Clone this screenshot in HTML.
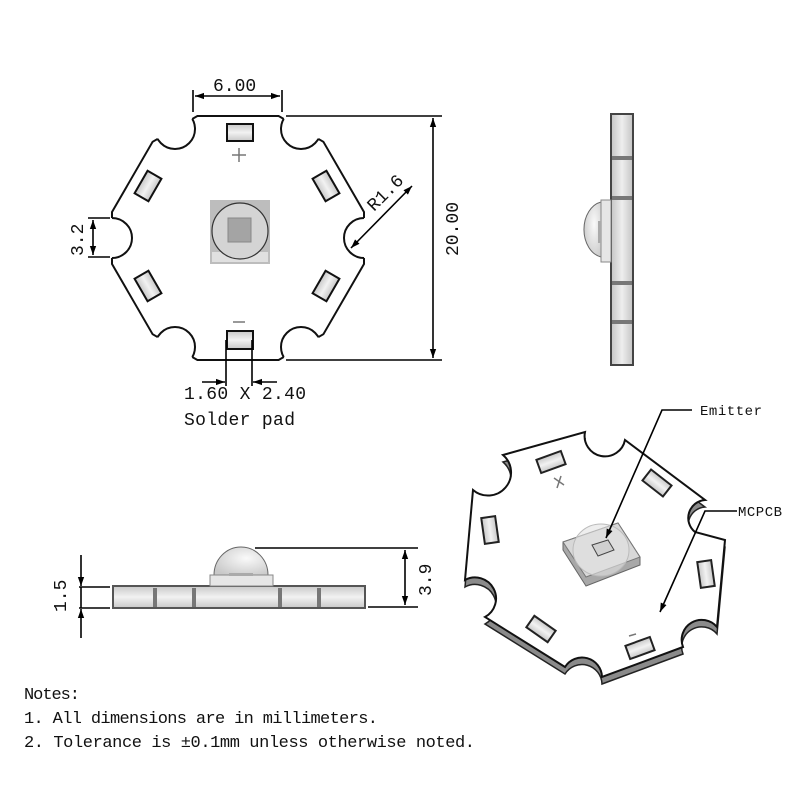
<!DOCTYPE html>
<html><head><meta charset="utf-8"><style>
html,body{margin:0;padding:0;background:#fff;width:800px;height:800px;overflow:hidden}
svg{display:block}
text{font-family:"Liberation Mono","DejaVu Sans Mono",monospace;fill:#111}
</style></head><body>
<svg width="800" height="800" viewBox="0 0 800 800" xmlns="http://www.w3.org/2000/svg">
<defs>
<linearGradient id="pad" x1="0" y1="0" x2="0" y2="1"><stop offset="0" stop-color="#c8c8c8"/><stop offset="0.5" stop-color="#f2f2f2"/><stop offset="1" stop-color="#c8c8c8"/></linearGradient>
<linearGradient id="padh" x1="0" y1="0" x2="1" y2="0"><stop offset="0" stop-color="#c4c4c4"/><stop offset="0.5" stop-color="#eee"/><stop offset="1" stop-color="#c4c4c4"/></linearGradient>
<radialGradient id="dome" cx="0.6" cy="0.4" r="0.7"><stop offset="0" stop-color="#fafafa"/><stop offset="1" stop-color="#c8c8c8"/></radialGradient>
<marker id="ah" viewBox="0 0 10 10" refX="10" refY="5" markerWidth="9" markerHeight="9" orient="auto-start-reverse" markerUnits="userSpaceOnUse"><path d="M0,1.5 L10,5 L0,8.5 z" fill="#000"/></marker>
<mask id="hexm"><rect width="800" height="800" fill="#fff"/>
<g fill="#000"><circle cx="112" cy="238" r="20"/><circle cx="364" cy="238" r="20"/><circle cx="175" cy="129" r="20"/><circle cx="301" cy="129" r="20"/><circle cx="175" cy="347" r="20"/><circle cx="301" cy="347" r="20"/></g></mask>
<clipPath id="hexc"><polygon points="197.4,116 278.6,116 323.4,141.8 364,212 364,264 323.4,334.2 278.6,360 197.4,360 152.6,334.2 112,264 112,212 152.6,141.8"/></clipPath>
</defs>

<!-- top view board -->
<polygon points="197.4,116 278.6,116 323.4,141.8 364,212 364,264 323.4,334.2 278.6,360 197.4,360 152.6,334.2 112,264 112,212 152.6,141.8" fill="#fff" stroke="#111" stroke-width="2" mask="url(#hexm)"/>
<g clip-path="url(#hexc)" fill="none" stroke="#111" stroke-width="2"><circle cx="112" cy="238" r="20"/><circle cx="364" cy="238" r="20"/><circle cx="175" cy="129" r="20"/><circle cx="301" cy="129" r="20"/><circle cx="175" cy="347" r="20"/><circle cx="301" cy="347" r="20"/></g>
<g stroke="#111" stroke-width="2" fill="url(#pad)">
<rect x="227" y="124" width="26" height="17"/>
<rect x="227" y="331" width="26" height="18"/>
<rect x="-13" y="-8" width="26" height="16" transform="translate(148,186) rotate(-60)"/>
<rect x="-13" y="-8" width="26" height="16" transform="translate(326,186) rotate(60)"/>
<rect x="-13" y="-8" width="26" height="16" transform="translate(148,286) rotate(60)"/>
<rect x="-13" y="-8" width="26" height="16" transform="translate(326,286) rotate(-60)"/>
</g>
<g stroke="#777" stroke-width="1.5"><line x1="232" y1="155" x2="246" y2="155"/><line x1="239" y1="148" x2="239" y2="162"/><line x1="233" y1="322" x2="245" y2="322"/></g>
<rect x="210" y="200" width="60" height="64" fill="#bdbdbd"/>
<rect x="212" y="252" width="56" height="10" fill="#e0e0e0"/>
<circle cx="240" cy="231" r="28" fill="#d4d4d4" stroke="#333" stroke-width="1.2"/>
<rect x="228" y="218" width="23" height="24" fill="#a4a4a4" stroke="#888"/>

<!-- top view dims -->
<g stroke="#000" stroke-width="1.6" fill="none">
<line x1="193" y1="90" x2="193" y2="112"/><line x1="282" y1="90" x2="282" y2="112"/>
<line x1="195" y1="96" x2="280" y2="96" marker-start="url(#ah)" marker-end="url(#ah)"/>
<line x1="286" y1="116" x2="442" y2="116"/><line x1="286" y1="360" x2="442" y2="360"/>
<line x1="433" y1="118" x2="433" y2="358" marker-start="url(#ah)" marker-end="url(#ah)"/>
<line x1="88" y1="218" x2="110" y2="218"/><line x1="88" y1="257" x2="110" y2="257"/>
<line x1="93" y1="220" x2="93" y2="255" marker-start="url(#ah)" marker-end="url(#ah)"/>
<line x1="412" y1="186" x2="351" y2="248" marker-start="url(#ah)" marker-end="url(#ah)"/>
<line x1="226" y1="340" x2="226" y2="386"/><line x1="252" y1="340" x2="252" y2="386"/>
<line x1="202" y1="382" x2="225" y2="382" marker-end="url(#ah)"/>
<line x1="277" y1="382" x2="253" y2="382" marker-end="url(#ah)"/>
</g>
<text x="213" y="91" font-size="18">6.00</text>
<text font-size="18" transform="translate(83,256) rotate(-90)">3.2</text>
<text font-size="18" transform="translate(458,256) rotate(-90)">20.00</text>
<text font-size="18" transform="translate(374,212) rotate(-45)">R1.6</text>
<text x="184" y="399" font-size="18" textLength="122">1.60 X 2.40</text>
<text x="184" y="425" font-size="18" textLength="111">Solder pad</text>

<!-- side view -->
<rect x="611" y="114" width="22" height="251" fill="url(#padh)" stroke="#444" stroke-width="2"/>
<g fill="#777"><rect x="612" y="156" width="20" height="4"/><rect x="612" y="196" width="20" height="4"/><rect x="612" y="281" width="20" height="4"/><rect x="612" y="320" width="20" height="4"/></g>
<path d="M601,202 A21,28 0 0 0 601,257 Z" fill="url(#dome)" stroke="#666"/>
<rect x="601" y="200" width="10" height="62" fill="#e6e6e6" stroke="#888"/>
<rect x="598" y="221" width="3" height="22" fill="#aaa"/>

<!-- bottom profile -->
<rect x="113" y="586" width="252" height="22" fill="url(#pad)" stroke="#555" stroke-width="2"/>
<g fill="#777"><rect x="153" y="588" width="4" height="19"/><rect x="192" y="588" width="4" height="19"/><rect x="278" y="588" width="4" height="19"/><rect x="317" y="588" width="4" height="19"/></g>
<path d="M214,575 A27,28 0 0 1 268,575 Z" fill="url(#dome)" stroke="#666"/>
<rect x="210" y="575" width="63" height="11" fill="#e6e6e6" stroke="#888"/>
<rect x="229" y="573" width="24" height="3" fill="#aaa"/>
<g stroke="#000" stroke-width="1.6" fill="none">
<line x1="255" y1="548" x2="418" y2="548"/><line x1="368" y1="607" x2="418" y2="607"/>
<line x1="405" y1="550" x2="405" y2="605" marker-start="url(#ah)" marker-end="url(#ah)"/>
<line x1="79" y1="587" x2="110" y2="587"/><line x1="79" y1="608" x2="110" y2="608"/>
<line x1="81" y1="555" x2="81" y2="586" marker-end="url(#ah)"/>
<line x1="81" y1="638" x2="81" y2="609" marker-end="url(#ah)"/>
<line x1="81" y1="587" x2="81" y2="608"/>
</g>
<text font-size="18" transform="translate(66,612) rotate(-90)">1.5</text>
<text font-size="18" transform="translate(431,596) rotate(-90)">3.9</text>

<!-- 3D view -->
<g transform="translate(0,7)">
<path d="M503,455 L585,432 A20,20 0 0 0 625,440 L705,500 A18,18 0 0 0 695,532 L725,540 L717,627 A20,20 0 0 0 683,647 L602,677 A20,20 0 0 0 565,667 L485,617 A20,20 0 0 0 465,580 L473,490 A20,20 0 0 0 503,455 Z" fill="#8a8a8a" stroke="#222" stroke-width="1.5"/>
</g>
<path d="M503,455 L585,432 A20,20 0 0 0 625,440 L705,500 A18,18 0 0 0 695,532 L725,540 L717,627 A20,20 0 0 0 683,647 L602,677 A20,20 0 0 0 565,667 L485,617 A20,20 0 0 0 465,580 L473,490 A20,20 0 0 0 503,455 Z" fill="#fff" stroke="#111" stroke-width="2"/>
<g stroke="#222" stroke-width="2" fill="url(#pad)">
<rect x="-13" y="-7" width="26" height="14" transform="translate(551,462) rotate(-20)"/>
<rect x="-13" y="-7" width="26" height="14" transform="translate(657,483) rotate(38)"/>
<rect x="-13" y="-7" width="26" height="14" transform="translate(490,530) rotate(82)"/>
<rect x="-13" y="-7" width="26" height="14" transform="translate(706,574) rotate(82)"/>
<rect x="-13" y="-7" width="26" height="14" transform="translate(541,629) rotate(35)"/>
<rect x="-13" y="-7" width="26" height="14" transform="translate(640,648) rotate(-20)"/>
</g>
<g stroke="#777" stroke-width="1.5"><line x1="554" y1="478" x2="564" y2="485"/><line x1="561" y1="476" x2="557" y2="488"/><line x1="629" y1="636" x2="636" y2="634"/></g>
<path d="M563,542 L618,523 L640,557 L640,565 L586,586 L563,550 Z" fill="#a8a8a8" stroke="#666"/>
<path d="M563,542 L618,523 L640,557 L586,577 Z" fill="#d8d8d8" stroke="#777"/>
<ellipse cx="601" cy="550" rx="28" ry="26" fill="#e2e2e2" fill-opacity="0.6" stroke="#bbb"/>
<path d="M592,545 L608,540 L614,550 L598,556 Z" fill="#d0d0d0" stroke="#444"/>
<g stroke="#000" stroke-width="1.6" fill="none">
<polyline points="692,410 662,410 606,538" marker-end="url(#ah)"/>
<polyline points="737,511 705,511 660,612" marker-end="url(#ah)"/>
</g>
<text x="700" y="415" font-size="14" font-family="Liberation Sans,sans-serif" textLength="62">Emitter</text>
<text x="738" y="516" font-size="14" font-family="Liberation Sans,sans-serif" textLength="44">MCPCB</text>

<!-- notes -->
<text x="24" y="699" font-size="17" textLength="56">Notes:</text>
<text x="24" y="723" font-size="17" textLength="354">1. All dimensions are in millimeters.</text>
<text x="24" y="747" font-size="17" textLength="451">2. Tolerance is ±0.1mm unless otherwise noted.</text>
</svg>
</body></html>
